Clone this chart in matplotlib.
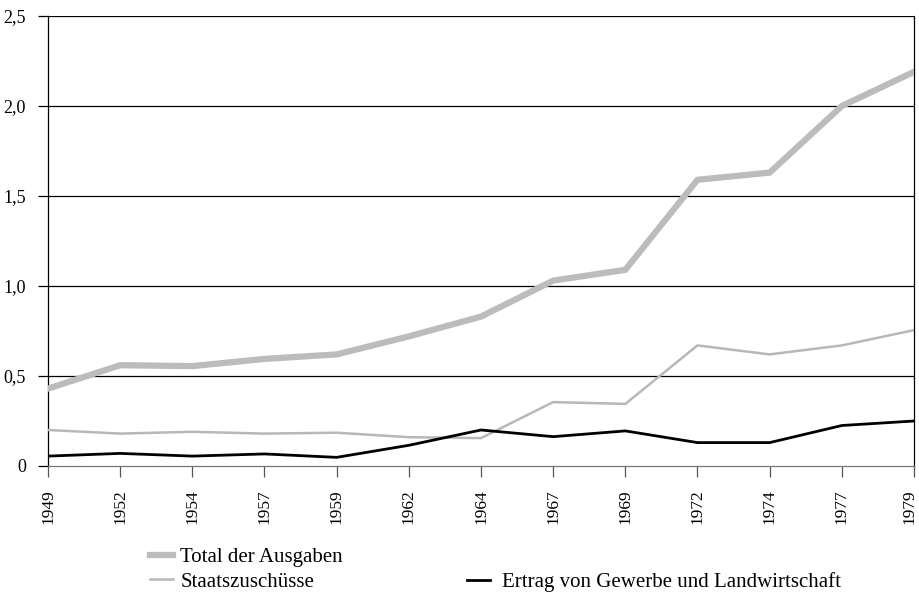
import matplotlib.pyplot as plt
from matplotlib.transforms import ScaledTranslation

years = ["1949", "1952", "1954", "1957", "1959", "1962", "1964",
         "1967", "1969", "1972", "1974", "1977", "1979"]
total = [0.43, 0.56, 0.555, 0.595, 0.62, 0.72, 0.83,
         1.03, 1.09, 1.59, 1.63, 2.0, 2.19]
staat = [0.20, 0.18, 0.19, 0.18, 0.185, 0.16, 0.155,
         0.355, 0.345, 0.67, 0.62, 0.67, 0.755]
ertrag = [0.055, 0.07, 0.055, 0.067, 0.048, 0.115, 0.20,
          0.163, 0.195, 0.13, 0.13, 0.225, 0.25]
y_ticks = [0, 0.5, 1.0, 1.5, 2.0, 2.5]
y_labels = ["0", "0,5", "1,0", "1,5", "2,0", "2,5"]

plt.rcParams["font.family"] = ["Liberation Serif", "DejaVu Serif"]

fig = plt.figure(figsize=(9.2, 6.02), dpi=100)
ax = fig.add_axes([48 / 920, 136 / 602, 866 / 920, 450 / 602])

x = list(range(len(years)))
ln_total, = ax.plot(x, total, color="#bcbcbc", linewidth=4.5,
                    solid_joinstyle="miter", label="Total der Ausgaben", zorder=3)
ln_staat, = ax.plot(x, staat, color="#b8b8b8", linewidth=1.8,
                    label="Staatszuschüsse", zorder=3)
ln_ertrag, = ax.plot(x, ertrag, color="black", linewidth=2.0,
                     label="Ertrag von Gewerbe und Landwirtschaft", zorder=4)

ax.set_xlim(0, len(years) - 1)
ax.set_ylim(0, 2.5)

# gridlines at each half unit
for v in y_ticks[1:]:
    ax.axhline(v, color="black", linewidth=0.9, zorder=1)

ax.set_yticks(y_ticks)
ax.set_yticklabels(y_labels, fontsize=13)
ax.set_xticks(x)
ax.set_xticklabels(years, rotation=90, fontsize=12.5)
ax.tick_params(axis="y", direction="out", length=7, width=0.9, pad=9, color="black")
ax.tick_params(axis="x", direction="out", length=8, width=0.9, pad=9, color="#555555")

# keep the last year label inside the figure
last = ax.get_xticklabels()[-1]
last.set_transform(last.get_transform() + ScaledTranslation(-5 / 100, 0, fig.dpi_scale_trans))

for side in ["left", "right"]:
    ax.spines[side].set_color("black")
    ax.spines[side].set_linewidth(0.9)
ax.spines["top"].set_visible(False)
ax.spines["bottom"].set_color("#777777")
ax.spines["bottom"].set_linewidth(0.9)

fig.legend(handles=[ln_total, ln_staat], loc="center left",
           bbox_to_anchor=(150 / 920, (602 - 569.5) / 602),
           frameon=False, fontsize=15, handlelength=1.1,
           handletextpad=0.35, borderpad=0, borderaxespad=0,
           labelspacing=0.25)
fig.legend(handles=[ln_ertrag], loc="center left",
           bbox_to_anchor=(467 / 920, (602 - 582) / 602),
           frameon=False, fontsize=15, handlelength=1.1,
           handletextpad=0.6, borderpad=0, borderaxespad=0)

fig.savefig("out.png", dpi=100)
